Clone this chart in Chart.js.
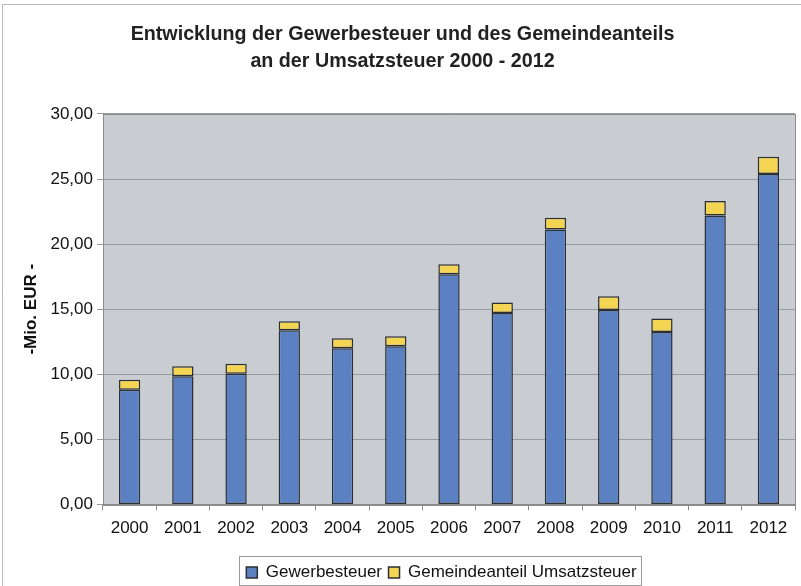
<!DOCTYPE html>
<html lang="de">
<head>
    <meta charset="UTF-8">
    <title>Gewerbesteuer und Gemeindeanteil Umsatzsteuer 2000 - 2012</title>
    <script src="https://cdn.jsdelivr.net/npm/chart.js"></script>
    <style>
        html, body { margin: 0; padding: 0; background: #fff; }
        #wrap { width: 801px; height: 586px; position: relative; }
    </style>
</head>
<body>
    <div id="wrap"><canvas id="taxChart" width="801" height="586"></canvas></div>

    <script>
        // Daten (Mio. EUR)
        const years = ['2000', '2001', '2002', '2003', '2004', '2005', '2006',
                       '2007', '2008', '2009', '2010', '2011', '2012'];
        const gewerbesteuer = [8.82, 9.85, 10.05, 13.38, 12.00, 12.15, 17.69,
                               14.72, 21.13, 14.95, 13.26, 22.20, 25.38];
        const gemeindeanteil = [0.77, 0.77, 0.77, 0.70, 0.77, 0.77, 0.77,
                                0.79, 0.90, 1.05, 1.02, 1.11, 1.34];
        const yTicks = [0, 5, 10, 15, 20, 25, 30];

        const FONT = 'Liberation Sans, Arial, sans-serif';

        // Hintergrund, Rahmen und Legendenrahmen
        const decorations = {
            id: 'decorations',
            afterLayout(chart) {
                // Titel und Legende wie im Original leicht verschieben
                chart.titleBlock.left += 10;
                chart.legend.left += 88;
                chart.legend.top += 5;
            },
            beforeDraw(chart) {
                const ctx = chart.ctx;
                const a = chart.chartArea;
                ctx.save();
                ctx.fillStyle = '#ffffff';
                ctx.fillRect(0, 0, chart.width, chart.height);
                ctx.strokeStyle = '#b8b8b8';
                ctx.lineWidth = 1;
                ctx.beginPath();
                ctx.moveTo(2.5, chart.height);
                ctx.lineTo(2.5, 4.5);
                ctx.lineTo(chart.width, 4.5);
                ctx.stroke();
                ctx.fillStyle = '#c9cdd1';
                ctx.fillRect(a.left, a.top, a.right - a.left, a.bottom - a.top);
                ctx.restore();
            },
            afterDraw(chart) {
                const ctx = chart.ctx;
                const a = chart.chartArea;
                const boxes = chart.legend.legendHitBoxes;
                ctx.save();
                ctx.strokeStyle = '#8c8c8c';
                ctx.lineWidth = 1;
                ctx.strokeRect(Math.round(a.left) + 0.5, Math.round(a.top) + 0.5,
                               Math.round(a.right - a.left), Math.round(a.bottom - a.top));
                if (boxes && boxes.length) {
                    const first = boxes[0];
                    const last = boxes[boxes.length - 1];
                    const x0 = first.left - 7;
                    const x1 = last.left + last.width + 5;
                    ctx.strokeStyle = '#9a9a9a';
                    ctx.strokeRect(Math.round(x0) + 0.5, 556.5, Math.round(x1 - x0), 29);
                }
                ctx.restore();
            }
        };

        const ctx = document.getElementById('taxChart').getContext('2d');
        new Chart(ctx, {
            type: 'bar',
            data: {
                labels: years,
                datasets: [{
                    label: 'Gewerbesteuer',
                    data: gewerbesteuer,
                    backgroundColor: '#5b81c3',
                    borderColor: '#2b2f36',
                    borderWidth: 1.5,
                    borderSkipped: false
                }, {
                    label: 'Gemeindeanteil Umsatzsteuer',
                    data: gemeindeanteil,
                    backgroundColor: '#f4d453',
                    borderColor: '#2b2f36',
                    borderWidth: 1.5,
                    borderSkipped: false
                }]
            },
            options: {
                responsive: false,
                animation: false,
                datasets: { bar: { barPercentage: 0.8, categoryPercentage: 0.5 } },
                layout: { padding: { left: 0, right: 6, top: 0, bottom: 0 } },
                plugins: {
                    title: {
                        display: true,
                        text: ['Entwicklung der Gewerbesteuer und des Gemeindeanteils',
                               'an der Umsatzsteuer 2000 - 2012'],
                        color: '#222',
                        font: { family: FONT, size: 19.7, weight: 'bold', lineHeight: 1.37 },
                        padding: { top: 21.5, bottom: 38.5 }
                    },
                    legend: {
                        position: 'bottom',
                        labels: {
                            color: '#111',
                            boxWidth: 11,
                            boxHeight: 11,
                            padding: 6.5,
                            font: { family: FONT, size: 17 }
                        }
                    },
                    tooltip: { enabled: false }
                },
                scales: {
                    x: {
                        stacked: true,
                        afterFit(scale) { scale.height = 48; },
                        border: { display: true, color: '#8c8c8c' },
                        grid: { display: true, drawOnChartArea: false, drawTicks: true, tickLength: 6, color: '#8c8c8c', offset: true },
                        ticks: {
                            color: '#111',
                            padding: 8,
                            maxRotation: 0,
                            font: { family: FONT, size: 17 }
                        }
                    },
                    y: {
                        stacked: true,
                        min: 0,
                        max: 30,
                        afterFit(scale) { scale.width = 103; },
                        afterBuildTicks(scale) { scale.ticks = yTicks.map(v => ({ value: v })); },
                        border: { display: true, color: '#8c8c8c' },
                        grid: { color: '#939c9f', tickLength: 6 },
                        ticks: {
                            color: '#111',
                            padding: 4,
                            font: { family: FONT, size: 17 },
                            callback: v => v.toFixed(2).replace('.', ',')
                        },
                        title: {
                            display: true,
                            text: '-Mio. EUR -',
                            color: '#111',
                            font: { family: FONT, size: 17, weight: 'bold' },
                            padding: { top: 21, bottom: 0 }
                        }
                    }
                }
            },
            plugins: [decorations]
        });
    </script>
</body>
</html>
